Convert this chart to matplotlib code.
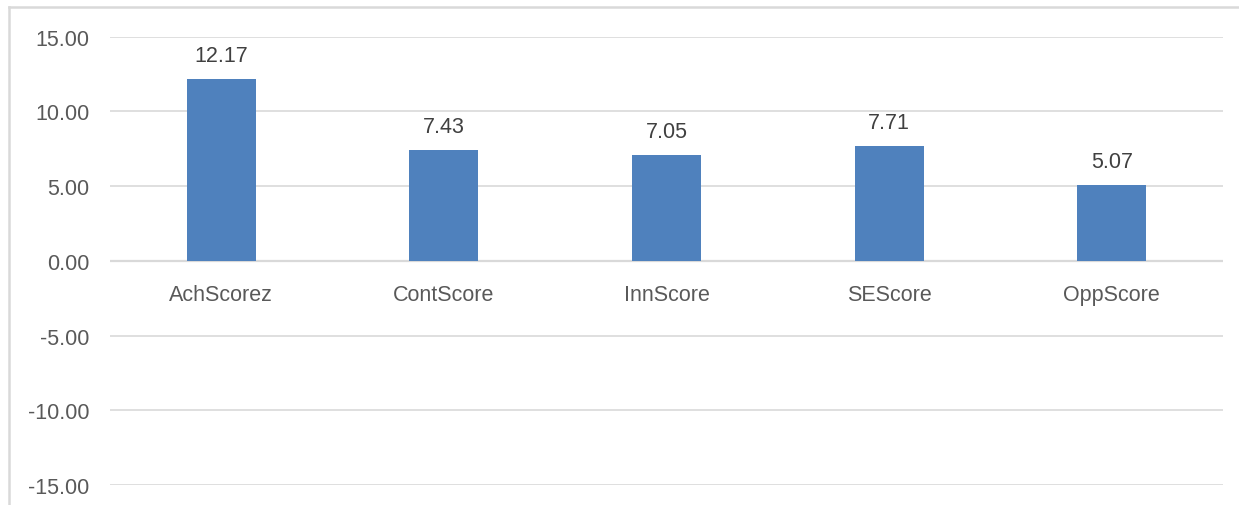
import matplotlib
matplotlib.use("Agg")
import matplotlib.pyplot as plt
from matplotlib.lines import Line2D

categories = ["AchScorez", "ContScore", "InnScore", "SEScore", "OppScore"]
values = [12.17, 7.43, 7.05, 7.71, 5.07]
yticks = [-15, -10, -5, 0, 5, 10, 15]

W, H = 1239, 506
fig = plt.figure(figsize=(W / 100, H / 100), dpi=100)
plt.rcParams['font.family'] = ['Liberation Sans', 'DejaVu Sans']

left, right = 110 / W, 1223 / W
top, bottom = 1 - 37.7 / H, 1 - 486 / H
ax = fig.add_axes([left, bottom, right - left, top - bottom])

x = list(range(len(categories)))
bar_color = "#4F81BD"
ax.bar(x, values, width=0.31, color=bar_color, zorder=3)
ax.set_xlim(-0.5, len(categories) - 0.5)
ax.set_ylim(-15, 15)
ax.set_yticks(yticks)
ax.set_yticklabels([f"{v:.2f}" for v in yticks])
ax.yaxis.grid(True, color="#D9D9D9", linewidth=1.2, zorder=0)
ax.set_axisbelow(True)
for s in ax.spines.values():
    s.set_visible(False)
ax.tick_params(axis="y", length=0, pad=15, labelsize=15.5, labelcolor="#595959")
ax.set_xticks([])
ax.axhline(0, color="#D9D9D9", linewidth=1.6, zorder=2)

text_color = "#404040"
for xi, v, c in zip(x, values, categories):
    ax.annotate(f"{v:.2f}", (xi, v), xytext=(0, 18), textcoords="offset pixels",
                ha="center", va="baseline", fontsize=15.5, color=text_color)
    ax.annotate(c, (xi, 0), xytext=(0, -34), textcoords="offset pixels",
                ha="center", va="center", fontsize=15.5, color="#595959")

# chart border (top and left visible)
fig.add_artist(Line2D([9 / W, 9 / W], [0, 1 - 8 / H], transform=fig.transFigure,
                      color="#D9D9D9", linewidth=1.8))
fig.add_artist(Line2D([9 / W, 1], [1 - 8 / H, 1 - 8 / H], transform=fig.transFigure,
                      color="#D9D9D9", linewidth=1.8))

fig.savefig("out.png", dpi=100)
